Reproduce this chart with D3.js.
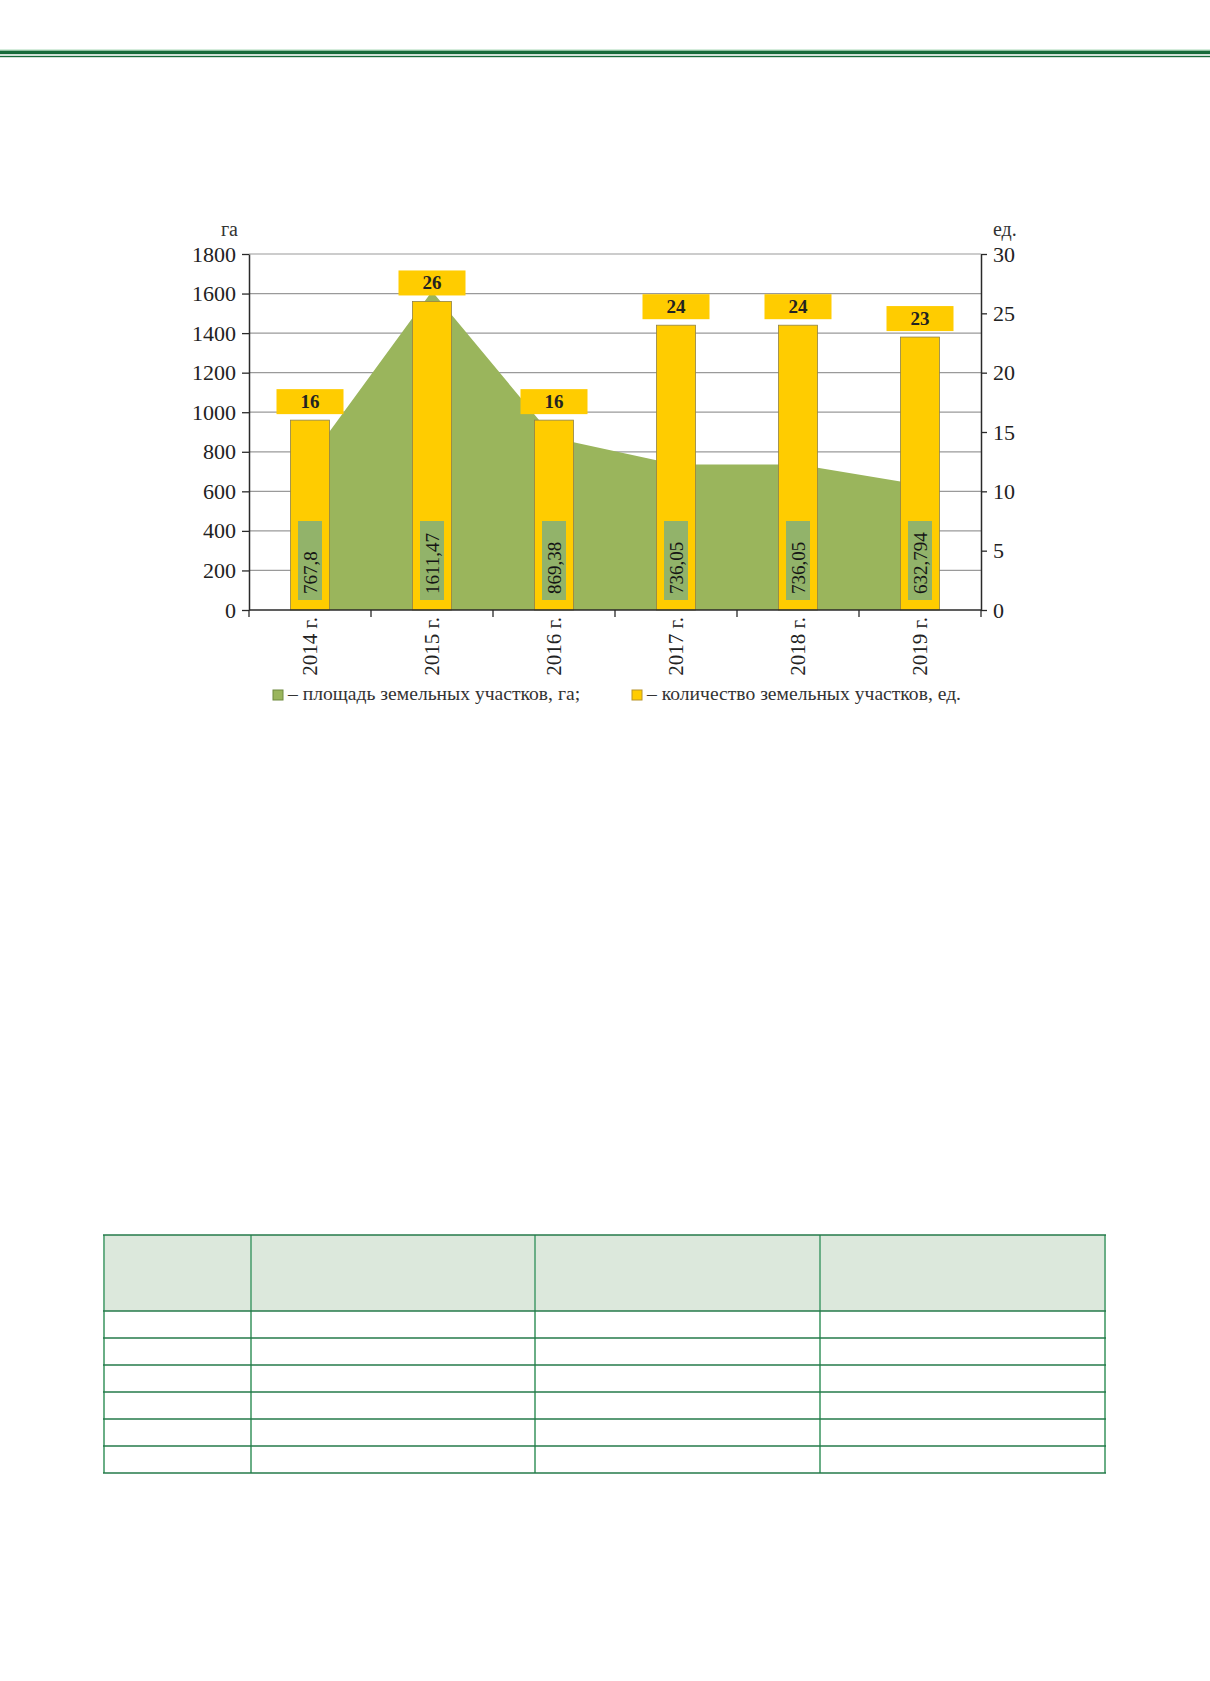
<!DOCTYPE html>
<html>
<head>
<meta charset="utf-8">
<script src="https://cdn.jsdelivr.net/npm/d3@7"></script>
<style>
  body { margin: 0; background: #fff; }
  svg { display: block; }
  text { font-family: "Liberation Serif", "DejaVu Serif", serif; }
</style>
</head>
<body>
<svg id="page"></svg>
<script>
// chart values
const years = ["2014 г.", "2015 г.", "2016 г.", "2017 г.", "2018 г.", "2019 г."];
const areaHa = [767.8, 1611.47, 869.38, 736.05, 736.05, 632.794];
const areaLabels = ["767,8", "1611,47", "869,38", "736,05", "736,05", "632,794"];
const plotCount = [16, 26, 16, 24, 24, 23];
const leftTicks = [0, 200, 400, 600, 800, 1000, 1200, 1400, 1600, 1800];
const rightTicks = [0, 5, 10, 15, 20, 25, 30];
const legendItems = [
    { label: "– площадь земельных участков, га;", color: "#9ab55c", stroke: "#6f8a3e" },
    { label: "– количество земельных участков, ед.", color: "#ffcc00", stroke: "#b8942a" }
];
const tableRows = 6;

const W = 1210, H = 1681;
const plot = { left: 249, right: 981, top: 254, bottom: 610 };

const svg = d3.select("#page").attr("width", W).attr("height", H);

// page header rule
const header = svg.append("g").attr("class", "header");
header.append("rect").attr("x", 0).attr("y", 49.5).attr("width", W).attr("height", 1.2).attr("fill", "#a9d9b8");
header.append("rect").attr("x", 0).attr("y", 50.7).attr("width", W).attr("height", 3.5).attr("fill", "#176b3a");
header.append("rect").attr("x", 0).attr("y", 55.8).attr("width", W).attr("height", 1.4).attr("fill", "#176b3a");

// scales
const x = d3.scaleBand()
    .domain(years)
    .range([plot.left, plot.right])
    .paddingInner(0.68)
    .paddingOuter(0.34);
const yL = d3.scaleLinear().domain([0, 1800]).range([plot.bottom, plot.top]);
const yR = d3.scaleLinear().domain([0, 30]).range([plot.bottom, plot.top]);
const cx = d => x(d) + x.bandwidth() / 2;

const chart = svg.append("g").attr("class", "chart");

// gridlines
chart.append("g").selectAll("line")
    .data(leftTicks.filter(t => t > 0))
    .enter().append("line")
    .attr("x1", plot.left).attr("x2", plot.right)
    .attr("y1", d => yL(d)).attr("y2", d => yL(d))
    .attr("stroke", "#9a9a9a").attr("stroke-width", 1.2);

// area series
const area = d3.area()
    .x((d, i) => cx(years[i]))
    .y0(yL(0))
    .y1(d => yL(d));
chart.append("path")
    .datum(areaHa)
    .attr("d", area)
    .attr("fill", "#9ab55c");

// bars
chart.append("g").selectAll("rect")
    .data(plotCount)
    .enter().append("rect")
    .attr("x", (d, i) => x(years[i]))
    .attr("width", x.bandwidth())
    .attr("y", d => yR(d))
    .attr("height", d => yR(0) - yR(d))
    .attr("fill", "#ffcc00")
    .attr("stroke", "#8f8248")
    .attr("stroke-width", 0.8);

// count labels above bars
const countLbl = chart.append("g").selectAll("g")
    .data(plotCount)
    .enter().append("g")
    .attr("transform", (d, i) => `translate(${cx(years[i])},${yR(d) - 6})`);
countLbl.append("rect")
    .attr("x", -33.5).attr("y", -25).attr("width", 67).attr("height", 25)
    .attr("fill", "#ffcc00");
countLbl.append("text")
    .attr("y", -6.5)
    .attr("text-anchor", "middle")
    .attr("font-size", 19).attr("font-weight", "bold")
    .attr("fill", "#222")
    .text(d => d);

// area value labels inside bars
const areaLbl = chart.append("g").selectAll("g")
    .data(areaLabels)
    .enter().append("g")
    .attr("transform", (d, i) => `translate(${cx(years[i])},${plot.bottom - 10})`);
areaLbl.append("rect")
    .attr("x", -12).attr("y", -79).attr("width", 24).attr("height", 79)
    .attr("fill", "#92b36a");
areaLbl.append("text")
    .attr("transform", "rotate(-90)")
    .attr("x", 6).attr("dy", "0.35em")
    .attr("text-anchor", "start")
    .attr("font-size", 19)
    .attr("fill", "#151515")
    .text(d => d);

// left axis
const axL = chart.append("g")
    .attr("transform", `translate(${plot.left},0)`)
    .call(d3.axisLeft(yL).tickValues(leftTicks).tickFormat(d3.format("d"))
        .tickSize(7).tickSizeOuter(0).tickPadding(6));
// right axis
const axR = chart.append("g")
    .attr("transform", `translate(${plot.right},0)`)
    .call(d3.axisRight(yR).tickValues(rightTicks).tickFormat(d3.format("d"))
        .tickSize(6).tickSizeOuter(0).tickPadding(6));
[axL, axR].forEach(ax => {
    ax.select(".domain").attr("stroke", "#2a2a2a").attr("stroke-width", 1.5);
    ax.selectAll(".tick line").attr("stroke", "#2a2a2a").attr("stroke-width", 1.3);
    ax.selectAll(".tick text")
        .attr("font-family", "Liberation Serif")
        .attr("font-size", 22)
        .attr("fill", "#222");
});

// bottom axis: line plus ticks at category boundaries
const gap = (x.step() - x.bandwidth()) / 2;
const bounds = years.map(y => x(y) - gap).concat([x(years[years.length - 1]) + x.bandwidth() + gap]);
const axB = chart.append("g");
axB.append("line")
    .attr("x1", plot.left).attr("x2", plot.right)
    .attr("y1", plot.bottom).attr("y2", plot.bottom)
    .attr("stroke", "#2a2a2a").attr("stroke-width", 1.5);
axB.selectAll(".btick")
    .data(bounds)
    .enter().append("line")
    .attr("class", "btick")
    .attr("x1", d => d).attr("x2", d => d)
    .attr("y1", plot.bottom).attr("y2", plot.bottom + 7)
    .attr("stroke", "#2a2a2a").attr("stroke-width", 1.3);
axB.selectAll(".year")
    .data(years)
    .enter().append("text")
    .attr("class", "year")
    .attr("transform", d => `translate(${cx(d)},${plot.bottom + 7}) rotate(-90)`)
    .attr("dy", "0.35em")
    .attr("text-anchor", "end")
    .attr("font-size", 21)
    .attr("fill", "#222")
    .text(d => d);

// axis units
chart.append("text").attr("x", 238).attr("y", 236).attr("text-anchor", "end")
    .attr("font-size", 20).attr("fill", "#333").text("га");
chart.append("text").attr("x", 993).attr("y", 236)
    .attr("font-size", 20).attr("fill", "#333").text("ед.");

// legend
const legendX = [273, 632];
const legend = chart.append("g").selectAll("g")
    .data(legendItems)
    .enter().append("g")
    .attr("transform", (d, i) => `translate(${legendX[i]},690)`);
legend.append("rect")
    .attr("width", 10).attr("height", 10)
    .attr("fill", d => d.color).attr("stroke", d => d.stroke).attr("stroke-width", 1);
legend.append("text")
    .attr("x", 15).attr("y", 10)
    .attr("font-size", 19.6).attr("fill", "#333")
    .text(d => d.label);

// empty table
const colX = [104, 251, 535, 820, 1105];
const tTop = 1235, headBottom = 1311, rowH = 27;
const rowY = d3.range(tableRows + 1).map(i => headBottom + i * rowH);
const table = svg.append("g").attr("class", "table");
table.append("rect")
    .attr("x", colX[0]).attr("y", tTop)
    .attr("width", colX[4] - colX[0]).attr("height", headBottom - tTop)
    .attr("fill", "#dce8dc");
table.selectAll(".vline")
    .data(colX)
    .enter().append("line")
    .attr("class", "vline")
    .attr("x1", d => d).attr("x2", d => d)
    .attr("y1", tTop).attr("y2", rowY[rowY.length - 1])
    .attr("stroke", "#6aae86").attr("stroke-width", 2);
table.selectAll(".hline")
    .data([tTop].concat(rowY))
    .enter().append("line")
    .attr("class", "hline")
    .attr("x1", colX[0] - 1).attr("x2", colX[4] + 1)
    .attr("y1", d => d).attr("y2", d => d)
    .attr("stroke", "#247a4a").attr("stroke-width", 1.6);
</script>
</body>
</html>
